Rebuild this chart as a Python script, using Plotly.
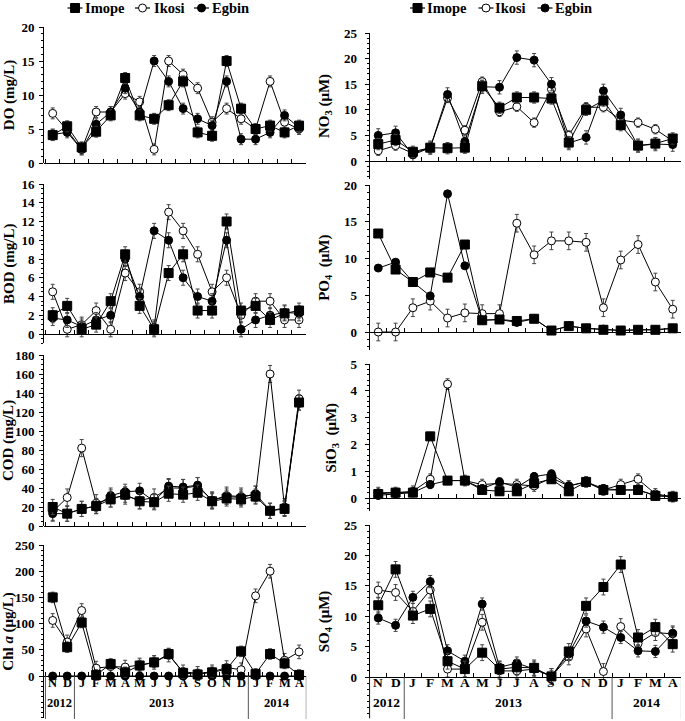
import plotly.graph_objects as go

W, H = 685, 721

months = ["N", "D", "J", "F", "M", "A", "M", "J", "J", "A", "S", "O", "N", "D", "J", "F", "M", "A"]
years = ["2012", "2013", "2014"]
year_pos = [0.5, 7.5, 15.5]
year_breaks = [-0.5, 1.5, 13.5, 17.5]
xi = list(range(len(months)))

# ---- DO (mg/L)
do_imope = [4.1, 5.4, 2.3, 4.6, 7.0, 12.5, 7.0, 6.5, 8.5, 12.0, 4.5, 4.0, 15.0, 8.0, 5.0, 5.5, 4.5, 5.5]
do_ikosi = [7.3, 4.8, 2.0, 7.5, 7.5, 10.2, 9.0, 2.0, 15.0, 13.0, 11.0, 6.0, 8.0, 6.5, 5.0, 12.0, 6.0, 5.0]
do_egbin = [4.2, 4.5, 2.0, 5.7, 7.5, 11.0, 7.5, 15.0, 12.0, 8.0, 6.5, 5.5, 12.0, 3.5, 3.5, 4.5, 7.0, 5.2]
# ---- NO3 (uM)
no3_imope = [3.3, 4.1, 1.8, 2.6, 2.5, 2.6, 14.6, 10.4, 12.4, 12.4, 12.2, 3.6, 10.0, 11.8, 7.0, 3.0, 3.4, 4.4]
no3_ikosi = [2.0, 3.0, 1.5, 2.6, 12.3, 6.0, 15.5, 9.6, 10.6, 7.5, 14.0, 5.0, 10.5, 10.5, 8.0, 7.5, 6.2, 3.9]
no3_egbin = [5.0, 5.5, 1.2, 2.6, 13.0, 3.8, 14.5, 14.4, 20.2, 19.7, 15.0, 3.5, 4.6, 13.7, 9.0, 3.0, 3.3, 3.2]
# ---- BOD (mg/L)
bod_imope = [2.0, 3.0, 0.5, 1.0, 3.5, 8.5, 3.0, 0.5, 6.5, 8.5, 2.5, 2.5, 12.0, 2.5, 3.0, 1.5, 2.2, 2.5]
bod_ikosi = [4.5, 0.5, 1.0, 2.5, 0.5, 6.5, 4.5, 0.7, 13.0, 11.0, 8.5, 4.5, 6.0, 2.0, 3.5, 3.5, 1.5, 1.5]
bod_egbin = [1.7, 1.5, 0.8, 1.5, 2.0, 8.0, 4.0, 11.0, 10.0, 6.0, 4.0, 3.5, 10.0, 0.5, 1.5, 2.0, 2.3, 2.2]
# ---- PO4 (uM)
po4_imope = [13.4, 8.5, 6.8, 8.1, 7.4, 11.9, 1.6, 1.7, 1.5, 1.8, 0.2, 0.8, 0.5, 0.3, 0.2, 0.3, 0.3, 0.5]
po4_ikosi = [0.0, 0.0, 3.3, 4.2, 1.9, 2.6, 2.5, 2.5, 14.8, 10.5, 12.4, 12.4, 12.2, 3.3, 9.8, 11.9, 6.8, 3.1]
po4_egbin = [8.7, 9.5, 6.8, 4.9, 18.8, 9.0, 1.6, 1.7, 1.3, 1.8, 0.2, 0.8, 0.5, 0.4, 0.2, 0.3, 0.3, 0.5]
# ---- COD (mg/L)
cod_imope = [20, 13, 18, 21, 28, 33, 26, 25, 34, 33, 35, 26, 29, 28, 31, 16, 18, 130]
cod_ikosi = [15, 30, 82, 24, 29, 32, 27, 30, 40, 40, 42, 27, 32, 31, 33, 160, 20, 134]
cod_egbin = [13, 13, 18, 21, 32, 36, 37, 26, 42, 41, 43, 27, 31, 30, 34, 16, 19, 130]
# ---- SiO3 (uM)
sio3_imope = [0.15, 0.2, 0.2, 2.3, 0.65, 0.65, 0.3, 0.25, 0.25, 0.55, 0.7, 0.25, 0.6, 0.3, 0.3, 0.3, 0.08, 0.05]
sio3_ikosi = [0.2, 0.2, 0.25, 0.7, 4.25, 0.65, 0.5, 0.55, 0.5, 0.45, 0.75, 0.45, 0.6, 0.3, 0.5, 0.7, 0.15, 0.05]
sio3_egbin = [0.1, 0.15, 0.2, 0.5, 0.65, 0.65, 0.35, 0.6, 0.4, 0.8, 0.9, 0.45, 0.6, 0.35, 0.3, 0.3, 0.1, 0.05]
# ---- Chl a (ug/L)
chl_imope = [150, 55, 102, 2, 23, 7, 20, 26, 42, 6, 3, 7, 13, 47, 4, 42, 24, 2]
chl_ikosi = [106, 65, 125, 15, 18, 17, 21, 26, 40, 8, 5, 8, 16, 12, 153, 200, 30, 46]
chl_egbin = [0, 0, 0, 0, 0, 0, 0, 0, 0, 0, 0, 0, 0, 0, 0, 0, 0, 0]
# ---- SO4 (uM)
so4_imope = [11.8, 17.7, 10.1, 11.2, 2.6, 1.3, 4.0, 1.3, 1.6, 1.5, 0.1, 4.2, 11.7, 14.8, 18.5, 6.5, 8.2, 5.4]
so4_ikosi = [14.3, 13.9, 10.8, 14.3, 1.3, 1.3, 9.0, 1.0, 1.0, 1.3, 0.1, 3.3, 7.9, 0.9, 8.3, 5.5, 7.3, 7.1]
so4_egbin = [9.7, 8.5, 13.1, 15.7, 4.3, 2.6, 12.0, 1.6, 2.3, 1.3, 0.1, 3.8, 9.2, 8.2, 6.5, 4.3, 4.2, 7.2]

# approximate standard-error bar half-lengths (Imope, Ikosi, Egbin)
do_err = [0.8, 0.8, 0.8]
no3_err = [1.1, 0.9, 1.3]
bod_err = [0.8, 0.8, 0.8]
po4_err = [0.0, 1.2, 0.0]
cod_err = [8, 9, 8]
sio3_err = [0.15, 0.2, 0.15]
chl_err = [10, 13, 0]
so4_err = [1.3, 1.3, 1.0]

series_names = ["Imope", "Ikosi", "Egbin"]

# panel layout: (title, data, err, column, top_px, zero_px, ymin, ymax, dtick, minor)
panels = [
    ("DO (mg/L)", (do_imope, do_ikosi, do_egbin), do_err, 0, 27, 163, 0, 20, 5, 1),
    ("NO<sub>3</sub> (μM)", (no3_imope, no3_ikosi, no3_egbin), no3_err, 1, 33, 161, -3.5, 25, 5, 1),
    ("BOD (mg/L)", (bod_imope, bod_ikosi, bod_egbin), bod_err, 0, 184, 334, -1, 16, 2, 0.5),
    ("PO<sub>4</sub>  (μM)", (po4_imope, po4_ikosi, po4_egbin), po4_err, 1, 185, 332, -2.5, 20, 5, 1),
    ("COD (mg/L)", (cod_imope, cod_ikosi, cod_egbin), cod_err, 0, 355, 526, 0, 180, 20, 5),
    ("SiO<sub>3</sub>  (μM)", (sio3_imope, sio3_ikosi, sio3_egbin), sio3_err, 1, 364, 498, -0.5, 5, 1, 0.2),
    ("Chl <i>a</i> (μg/L)", (chl_imope, chl_ikosi, chl_egbin), chl_err, 0, 545, 676, -80, 250, 50, 10),
    ("SO<sub>4</sub> (μM)", (so4_imope, so4_ikosi, so4_egbin), so4_err, 1, 525, 677, -6.74, 25, 5, 1),
]

FONT = "Liberation Serif, Times New Roman, serif"
col_dom = [(44 / W, 306.3 / W), (369.6 / W, 680.5 / W)]
col_rng = [(-0.6, 17.5), (-0.5, 17.45)]
col_standoff = [3, 10]
col_labelgap = [2, 5]

markers = [
    dict(symbol="square", size=9, color="black", line=dict(color="black", width=1)),
    dict(symbol="circle", size=8, color="white", line=dict(color="black", width=1)),
    dict(symbol="circle", size=8, color="black", line=dict(color="black", width=1)),
]

fig = go.Figure()
layout = {}
draw_order = [1, 2, 0]

for i, (title, data, errs, col, top_px, zero_px, ymin, ymax, dtick, minor) in enumerate(panels):
    n = i + 1
    xa = "x" if n == 1 else f"x{n}"
    ya = "y" if n == 1 else f"y{n}"
    ppu = (zero_px - top_px) / ymax
    bottom_px = zero_px + (-ymin) * ppu
    ydom = (1 - bottom_px / H, 1 - top_px / H)
    for s in draw_order:
        fig.add_trace(go.Scatter(
            x=xi, y=data[s], mode="lines+markers", name=series_names[s],
            line=dict(color="black", width=1),
            marker=markers[s],
            error_y=dict(type="constant", value=errs[s], visible=errs[s] > 0,
                         color="#444", thickness=1, width=2),
            xaxis=xa, yaxis=ya, cliponaxis=False, showlegend=False,
        ))
    tv = []
    v = 0
    while v <= ymax + 1e-9:
        tv.append(round(v, 6))
        v += dtick
    layout[f"xaxis{'' if n == 1 else n}"] = dict(
        domain=list(col_dom[col]), range=list(col_rng[col]), anchor="free",
        position=1 - zero_px / H, automargin=False, autorange=False,
        tickmode="array", tickvals=[k - 0.5 for k in range(19)],
        ticks="inside", ticklen=4, tickcolor="black",
        showticklabels=False, showline=True, linecolor="black", linewidth=1,
        showgrid=False, zeroline=False,
    )
    layout[f"yaxis{'' if n == 1 else n}"] = dict(
        domain=list(ydom), range=[ymin, ymax], anchor=xa, automargin=False, autorange=False,
        tickmode="array", tickvals=tv, ticks="outside", ticklen=4, tickcolor="black",
        ticklabelstandoff=col_labelgap[col],
        minor=dict(ticks="outside", ticklen=2, dtick=minor, tick0=0, tickcolor="black", showgrid=False),
        showline=True, linecolor="black", linewidth=1, showgrid=False, zeroline=False,
        tickfont=dict(family=FONT, size=13, color="black", weight="bold"),
        title=dict(text=title, standoff=col_standoff[col],
                   font=dict(family=FONT, size=15, color="black", weight="bold")),
    )

annotations = []
shapes = []
for xa, zero_px, fsize in (("x7", 676, 12.5), ("x8", 677, 13.5)):
    for m, lab in zip(xi, months):
        annotations.append(dict(x=m, y=1 - 692 / H, xref=xa, yref="paper", text=lab,
                                showarrow=False, font=dict(family=FONT, size=fsize, color="black", weight="bold")))
    for yr, p in zip(years, year_pos):
        annotations.append(dict(x=p, y=1 - 712 / H, xref=xa, yref="paper", text=yr,
                                showarrow=False, font=dict(family=FONT, size=fsize, color="black", weight="bold")))
    for b in year_breaks:
        shapes.append(dict(type="line", xref=xa, yref="paper", x0=b, x1=b,
                           y0=1 - zero_px / H, y1=1 - 719 / H, line=dict(color="#555", width=1)))

# legend keys (one row above each column): symbol centre x, text left x
legend_rows = [
    [(75, 83), (142.5, 152), (201.5, 210)],
    [(417.5, 425), (486, 493), (545, 553)],
]
LEG_Y = 8
for row in legend_rows:
    for s, (cx, tx) in enumerate(row):
        common = dict(xref="paper", yref="paper", xsizemode="pixel", ysizemode="pixel",
                      xanchor=cx / W, yanchor=1 - LEG_Y / H)
        shapes.append(dict(type="line", x0=-7.5, x1=7.5, y0=0, y1=0,
                           line=dict(color="black", width=1.2), **common))
        mk = markers[s]
        r = mk["size"] / 2
        shapes.append(dict(type="rect" if mk["symbol"] == "square" else "circle",
                           x0=-r, x1=r, y0=-r, y1=r, fillcolor=mk["color"],
                           line=dict(color="black", width=1), **common))
        annotations.append(dict(x=tx / W, y=1 - LEG_Y / H, xref="paper", yref="paper",
                                xanchor="left", yanchor="middle", text=series_names[s], showarrow=False,
                                font=dict(family=FONT, size=14.5, color="black", weight="bold")))

fig.update_layout(
    width=W, height=H, margin=dict(l=0, r=0, t=0, b=0, autoexpand=False),
    paper_bgcolor="white", plot_bgcolor="white", showlegend=False,
    annotations=annotations, shapes=shapes,
    **layout,
)

fig.write_html("out.html", config={"displayModeBar": False},
               post_script="document.body.style.margin='0px';document.body.style.padding='0px';")
